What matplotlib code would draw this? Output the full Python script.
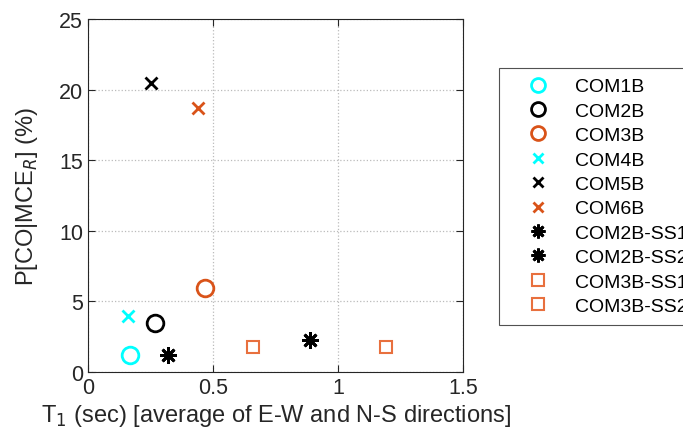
import matplotlib
matplotlib.use("Agg")
import matplotlib.pyplot as plt
from matplotlib.lines import Line2D

plt.rcParams['font.family'] = ['Liberation Sans', 'DejaVu Sans']

names = ["COM1B", "COM2B", "COM3B", "COM4B", "COM5B", "COM6B",
         "COM2B-SS1", "COM2B-SS2", "COM3B-SS1", "COM3B-SS2"]
t1 = [0.168, 0.268, 0.469, 0.160, 0.251, 0.440, 0.321, 0.889, 0.661, 1.190]
pco = [1.2, 3.47, 5.97, 3.99, 20.47, 18.68, 1.2, 2.29, 1.79, 1.79]
markers = ["o", "o", "o", "x", "x", "x", (8, 2, 0), (8, 2, 0), "s", "s"]
colors = ["#00FFFF", "#000000", "#D95319", "#00FFFF", "#000000", "#D95319",
          "#000000", "#000000", "#E8703E", "#E8703E"]
sizes = [12, 12, 12, 8, 8, 8, 12, 12, 9, 9]
widths = [2, 2, 2, 2, 2, 2, 2, 2, 1.5, 1.5]
leg_sizes = [10, 10, 10, 7, 7, 7, 10, 10, 8, 8]

fig = plt.figure(figsize=(6.83, 4.39), dpi=100)
ax = fig.add_axes([88/683, 1-373/439, 375/683, 353/439])

for x, y, m, c, s, w in zip(t1, pco, markers, colors, sizes, widths):
    ax.plot([x], [y], linestyle='none', marker=m, markersize=s,
            markerfacecolor='none', markeredgecolor=c, markeredgewidth=w)

ax.set_xlim(0, 1.5)
ax.set_ylim(0, 25)
ax.set_xticks([0, 0.5, 1, 1.5])
ax.set_xticklabels(["0", "0.5", "1", "1.5"])
ax.set_yticks([0, 5, 10, 15, 20, 25])
ax.grid(True, linestyle=':', color='#BBBBBB', linewidth=0.9)
ax.tick_params(direction='in', top=True, right=True, labelsize=15.5,
               colors='#262626', length=5, width=0.8)
for sp in ax.spines.values():
    sp.set_color('#262626')
    sp.set_linewidth(0.8)

ax.set_xlabel("T$_1$ (sec) [average of E-W and N-S directions]",
              fontsize=17, color='#262626')
ax.xaxis.set_label_coords(0.5, -0.085)
ax.set_ylabel("P[CO|MCE$_R$] (%)", fontsize=17, color='#262626')
ax.yaxis.set_label_coords(-0.128, 0.5)

handles = [Line2D([], [], linestyle='none', marker=m, markersize=s,
                  markerfacecolor='none', markeredgecolor=c, markeredgewidth=w)
           for m, c, s, w in zip(markers, colors, leg_sizes, widths)]
leg = fig.legend(handles, names, loc='upper left',
                 bbox_to_anchor=(499/683, 1-69/439), fontsize=14,
                 frameon=True, fancybox=False, edgecolor='#262626',
                 labelspacing=0.35, handletextpad=0.42, borderpad=0.5,
                 handlelength=3.0, borderaxespad=0)
leg.get_frame().set_linewidth(0.8)

fig.savefig("out.png", dpi=100)
